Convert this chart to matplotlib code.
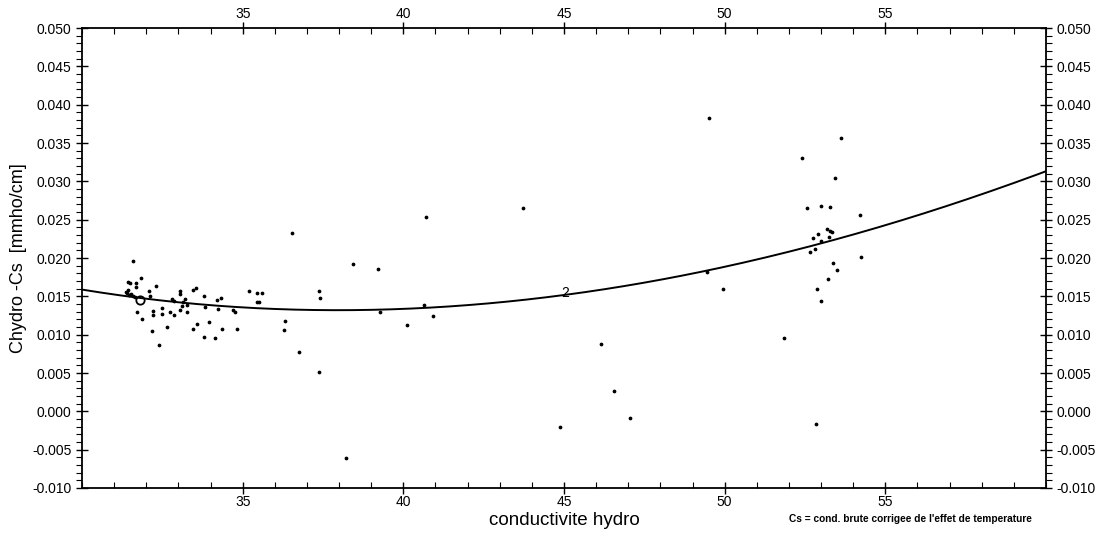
import numpy as np
import matplotlib
matplotlib.use("Agg")
import matplotlib.pyplot as plt
from matplotlib.ticker import MultipleLocator, FixedLocator, FormatStrFormatter

plt.rcParams['font.family'] = ['Liberation Sans', 'DejaVu Sans']

# conductivite hydro vs (Chydro - Cs)
cond_hydro = [
    31.58, 31.44, 31.49, 31.67, 31.67, 31.84, 32.29, 32.09, 33.05, 33.05,
    31.40, 31.46, 31.52, 31.59, 31.65, 31.43, 31.37, 32.12, 32.48, 31.70,
    31.86, 32.22, 32.22, 32.48, 32.74, 32.87, 33.05, 33.28, 32.17, 32.65,
    32.40, 32.79, 32.87, 33.15, 33.46, 33.54, 33.20, 33.80, 33.83, 34.19,
    34.31, 34.24, 34.71, 34.76, 35.19, 35.45, 35.60, 35.45, 35.50, 33.44,
    33.57, 33.96, 33.79, 34.15, 34.36, 34.83, 33.12, 33.26,
    36.52, 38.44, 39.22, 37.37, 37.42, 36.31, 36.28, 36.75, 37.37, 38.22,
    39.27, 40.63, 40.92, 40.11, 40.70,
    43.71, 46.16, 46.55, 47.04, 44.88, 49.45, 49.95, 49.50,
    53.62, 52.40, 53.45, 52.57, 52.99, 53.27, 54.20, 53.18, 53.27, 53.33,
    52.75, 52.92, 52.99, 53.24, 52.81, 52.67, 54.25, 53.38, 53.51, 53.23,
    52.89, 53.00, 51.84, 52.83,
]
delta_c = [
    0.0196, 0.0169, 0.0168, 0.0167, 0.0162, 0.0174, 0.0163, 0.0157, 0.0157, 0.0153,
    0.0154, 0.0152, 0.0153, 0.0150, 0.0149, 0.0158, 0.0156, 0.0150, 0.0135, 0.0130,
    0.0120, 0.0131, 0.0126, 0.0127, 0.0130, 0.0126, 0.0132, 0.0130, 0.0105, 0.0110,
    0.0087, 0.0147, 0.0144, 0.0143, 0.0158, 0.0161, 0.0147, 0.0151, 0.0136, 0.0145,
    0.0148, 0.0134, 0.0132, 0.0129, 0.0157, 0.0155, 0.0155, 0.0143, 0.0142, 0.0107,
    0.0114, 0.0117, 0.0097, 0.0096, 0.0107, 0.0107, 0.0138, 0.0139,
    0.0233, 0.0192, 0.0186, 0.0157, 0.0148, 0.0118, 0.0106, 0.0078, 0.0051, -0.0061,
    0.0129, 0.0139, 0.0125, 0.0112, 0.0254,
    0.0265, 0.0088, 0.0026, -0.0009, -0.0020, 0.0182, 0.0159, 0.0383,
    0.0357, 0.0331, 0.0304, 0.0265, 0.0268, 0.0266, 0.0256, 0.0238, 0.0235, 0.0234,
    0.0226, 0.0231, 0.0222, 0.0228, 0.0212, 0.0208, 0.0201, 0.0194, 0.0184, 0.0173,
    0.0159, 0.0144, 0.0096, -0.0017,
]
# odd open-circle mark in the dense cluster
circle_x = [31.80]
circle_y = [0.0145]

# regression curve as drawn in the original (samples)
curve_x = [30.0, 30.87, 33.2, 35.7, 38.65, 41.76, 45.05, 49.45, 51.71, 54.5, 60.0]
curve_y = [0.0158, 0.0154, 0.0142, 0.0134, 0.0131, 0.0137, 0.0155, 0.0182, 0.0204, 0.0238, 0.0313]
curve_label = '2'
label_x = 45.05

x_ticks = [35, 40, 45, 50, 55]

fig = plt.figure(figsize=(11.01, 5.40), dpi=100)
ax = fig.add_axes([0.0745, 0.0963, 0.8755, 0.8518])

ax.plot(cond_hydro, delta_c, 'k.', markersize=3.4, zorder=3)
ax.plot(circle_x, circle_y, 'o', mfc='none', mec='k', markersize=6, mew=1.3)

# smooth line through the read samples
coef = np.polyfit(curve_x, curve_y, 3)
xs = np.linspace(30, 60, 300)
ax.plot(xs, np.polyval(coef, xs), 'k-', lw=1.4)
ax.text(label_x, np.polyval(coef, label_x) + 0.0002, curve_label, fontsize=10,
        ha='center', va='center')

ax.set_xlim(30, 60)
ax.set_ylim(-0.010, 0.050)

ax.xaxis.set_major_locator(FixedLocator(x_ticks))
ax.xaxis.set_minor_locator(MultipleLocator(1))
ax.yaxis.set_major_locator(MultipleLocator(0.005))
ax.yaxis.set_minor_locator(MultipleLocator(0.001))
ax.yaxis.set_major_formatter(FormatStrFormatter('%.3f'))

ax.tick_params(axis='both', which='major', labelsize=10, length=8, width=1,
               direction='inout', top=True, right=True,
               labeltop=True, labelright=True)
ax.tick_params(axis='both', which='minor', length=4, width=0.8,
               direction='out', top=True, right=True)
ax.tick_params(axis='x', which='minor', direction='in', bottom=True)
ax.tick_params(axis='x', which='major', pad=1)
for sp in ax.spines.values():
    sp.set_linewidth(1.3)

ax.set_xlabel('conductivite hydro', fontsize=13.5, labelpad=2)
ax.set_ylabel('Chydro -Cs  [mmho/cm]', fontsize=13, labelpad=4)

fig.text(0.717, 0.034, "Cs = cond. brute corrigee de l'effet de temperature",
         fontsize=7.3, fontweight='bold')

fig.savefig('out.png', dpi=100)
